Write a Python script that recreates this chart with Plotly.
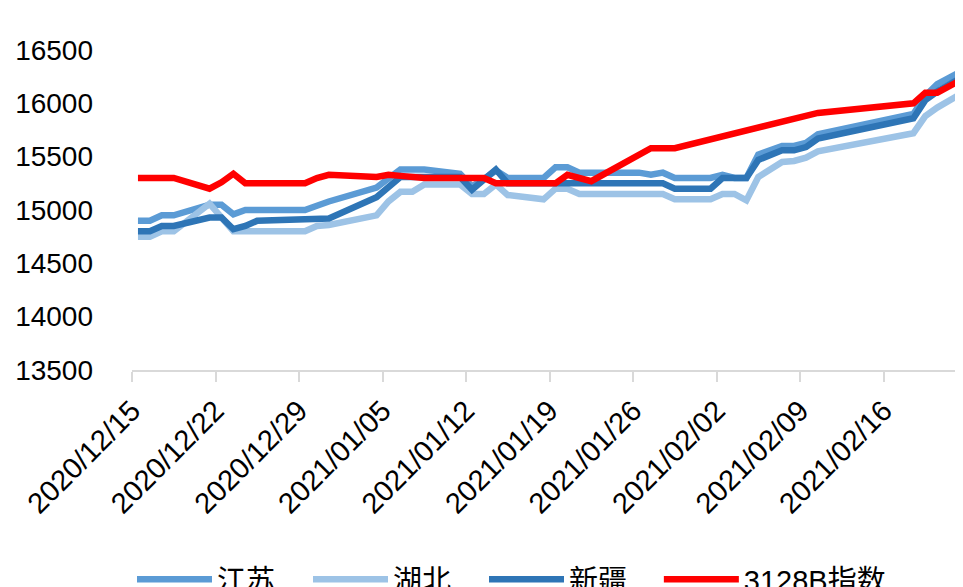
import pandas as pd
import plotly.graph_objects as go

dates = [
    "2020-12-15", "2020-12-16", "2020-12-17", "2020-12-18", "2020-12-21", "2020-12-22",
    "2020-12-23", "2020-12-24", "2020-12-25", "2020-12-28", "2020-12-29", "2020-12-30",
    "2020-12-31",
    "2021-01-04", "2021-01-05", "2021-01-06", "2021-01-07", "2021-01-08", "2021-01-11",
    "2021-01-12", "2021-01-13", "2021-01-14", "2021-01-15", "2021-01-18", "2021-01-19",
    "2021-01-20", "2021-01-21", "2021-01-22", "2021-01-25", "2021-01-26", "2021-01-27",
    "2021-01-28", "2021-01-29",
    "2021-02-01", "2021-02-02", "2021-02-03", "2021-02-04", "2021-02-05", "2021-02-07",
    "2021-02-08", "2021-02-09", "2021-02-10", "2021-02-18", "2021-02-19", "2021-02-20",
    "2021-02-22",
]

jiangsu = [
    14900, 14900, 14950, 14950, 15050, 15050, 14960, 15000, 15000, 15000, 15000, 15040, 15080,
    15210, 15300, 15380, 15380, 15380, 15340, 15220, 15290, 15370, 15300, 15300, 15400,
    15400, 15350, 15350, 15350, 15350, 15330, 15350, 15300,
    15300, 15330, 15300, 15300, 15520, 15600, 15600, 15630, 15710, 15900, 16070, 16180, 16300,
]

hubei = [
    14750, 14750, 14800, 14800, 15060, 14930, 14800, 14800, 14800, 14800, 14800, 14850, 14860,
    14950, 15080, 15170, 15170, 15240, 15240, 15150, 15150, 15240, 15140, 15100, 15200,
    15200, 15150, 15150, 15150, 15150, 15150, 15150, 15100,
    15100, 15150, 15150, 15090, 15310, 15450, 15460, 15490, 15550, 15720, 15880, 15960, 16090,
]

xinjiang = [
    14800, 14800, 14850, 14850, 14930, 14930, 14820, 14850, 14900, 14910, 14920, 14920, 14920,
    15120, 15220, 15310, 15310, 15310, 15310, 15190, 15290, 15380, 15250, 15250, 15250,
    15250, 15250, 15250, 15250, 15250, 15250, 15250, 15200,
    15200, 15300, 15300, 15300, 15470, 15560, 15560, 15590, 15670, 15860, 16030, 16110, 16240,
]

# 3128B index: no points where the line runs straight across
index_3128b = [
    15300, 15300, 15300, 15300, 15200, 15260, 15340, 15250, 15250, 15250, 15250, 15300, 15330,
    15310, 15330, 15320, 15310, 15300, 15300, 15300, 15300, 15250, 15250, 15250, 15250,
    15330, None, 15270, None, None, 15580, 15580, 15580,
    None, None, None, None, None, None, None, None, 15910, 16000, 16100, 16100, 16220,
]

tick_dates = ["2020-12-15", "2020-12-22", "2020-12-29", "2021-01-05", "2021-01-12",
              "2021-01-19", "2021-01-26", "2021-02-02", "2021-02-09", "2021-02-16"]

# points sit in the middle of each day, ticks on day boundaries
x = pd.to_datetime(dates) + pd.Timedelta(hours=12)

series = [
    ("江苏", jiangsu, "#5B9BD5", "legend"),
    ("湖北", hubei, "#9DC3E6", "legend"),
    ("新疆", xinjiang, "#2E75B6", "legend"),
    ("3128B指数", index_3128b, "#FF0000", "legend2"),
]

fig = go.Figure()
for name, vals, color, leg in series:
    fig.add_trace(go.Scatter(
        x=x, y=vals, name=name, mode="lines", connectgaps=True,
        line=dict(color=color, width=6.5), legend=leg,
    ))

font = "Liberation Sans, Arial, Noto Sans CJK SC"
legend_style = dict(orientation="h", y=-0.508, xanchor="left", yanchor="top",
                    font=dict(size=29), itemwidth=75)

# the page body adds 8px, so margins are trimmed by that much
fig.update_layout(
    width=963, height=587,
    margin=dict(l=124, r=8, t=0, b=225, autoexpand=False),
    paper_bgcolor="white", plot_bgcolor="white",
    font=dict(family=font, size=28, color="#000000"),
    showlegend=True,
    legend=dict(x=0.0, entrywidth=86, entrywidthmode="pixels", **legend_style),
    legend2=dict(x=0.634, **legend_style),
)

fig.update_xaxes(
    type="date",
    range=["2020-12-15", "2021-02-22 15:50"],
    tickvals=pd.to_datetime(tick_dates),
    ticktext=[d.replace("-", "/") for d in tick_dates],
    tickangle=-45,
    tickfont=dict(size=29),
    showline=True, linecolor="#D9D9D9", linewidth=2,
    ticks="outside", tickcolor="#D9D9D9", ticklen=10, tickwidth=2,
    showgrid=False, zeroline=False, automargin=False,
)
fig.update_yaxes(
    range=[13500, 16893.75],
    tickvals=[13500, 14000, 14500, 15000, 15500, 16000, 16500],
    tickformat="d",
    showline=False, showgrid=False, zeroline=False, automargin=False,
    ticklabelstandoff=38,
)

fig.write_html("out.html")
